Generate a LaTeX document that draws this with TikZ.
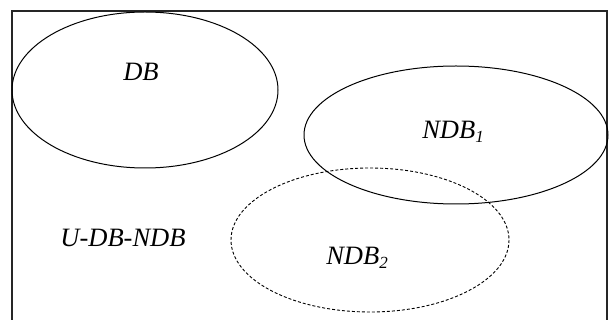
\documentclass[tikz,border=0pt]{standalone}
\usepackage{fontspec}
\setmainfont{Liberation Serif}
\newcommand{\mysub}[1]{\raisebox{-4pt}{\fontsize{17}{18}\selectfont #1}}
\begin{document}
\begin{tikzpicture}[x=1pt,y=-1pt,
  setline/.style={draw=black,line width=1pt},
  lbl/.style={font=\fontsize{26.5}{28}\selectfont\itshape,inner sep=0pt}]
\useasboundingbox (0,0) rectangle (610,320);
\begin{scope}
\clip (0,0) rectangle (610,320);
\draw[line width=1.5pt,draw=black!85] (12,11) rectangle (607,330);
\end{scope}
\draw[setline] (145,90) ellipse [x radius=133, y radius=78];
\draw[setline] (456,135) ellipse [x radius=152, y radius=69];
\draw[setline,dashed,dash pattern=on 3pt off 2pt,line width=0.9pt] (370,240) ellipse [x radius=139, y radius=72];
\node[lbl] (db) at (141,72) {DB};
\node[lbl] (ndb1) at (453,132) {NDB\mysub{1}};
\node[lbl] (ndb2) at (357,258) {NDB\mysub{2}};
\node[lbl] (u) at (123,238) {U-DB-NDB};
\end{tikzpicture}
\end{document}
